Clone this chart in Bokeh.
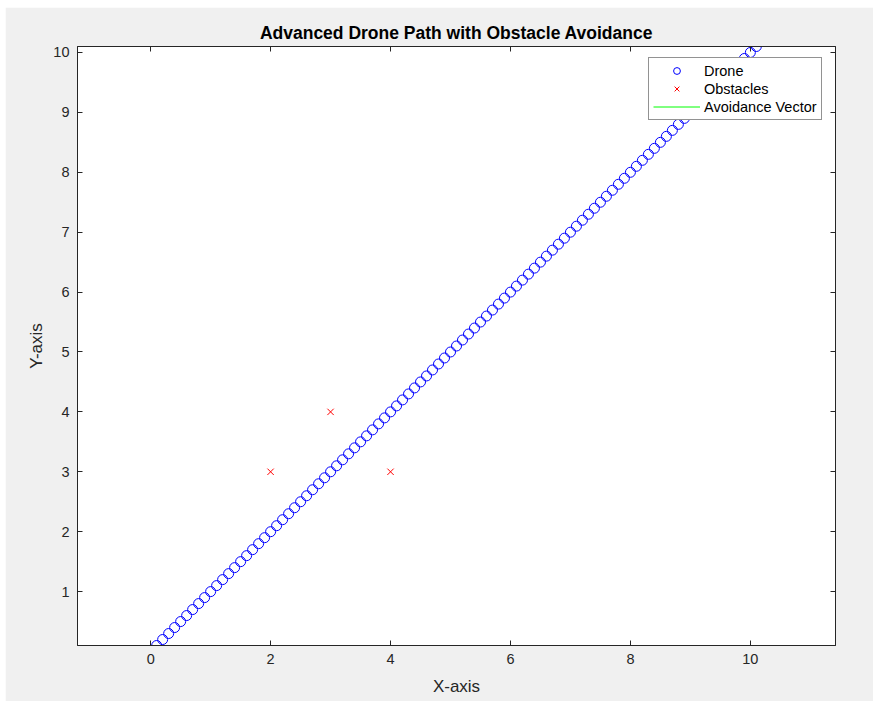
from bokeh.plotting import figure
from bokeh.models import (Range1d, LinearAxis, Legend, LegendItem, FixedTicker,
                          CustomLabelingPolicy, ColumnDataSource)
from bokeh.embed import file_html
from bokeh.resources import INLINE

drone_x = [0.1, 0.2, 0.3, 0.4, 0.5, 0.6, 0.7, 0.8, 0.9, 1.0,
           1.1, 1.2, 1.3, 1.4, 1.5, 1.6, 1.7, 1.8, 1.9, 2.0,
           2.1, 2.2, 2.3, 2.4, 2.5, 2.6, 2.7, 2.8, 2.9, 3.0,
           3.1, 3.2, 3.3, 3.4, 3.5, 3.6, 3.7, 3.8, 3.9, 4.0,
           4.1, 4.2, 4.3, 4.4, 4.5, 4.6, 4.7, 4.8, 4.9, 5.0,
           5.1, 5.2, 5.3, 5.4, 5.5, 5.6, 5.7, 5.8, 5.9, 6.0,
           6.1, 6.2, 6.3, 6.4, 6.5, 6.6, 6.7, 6.8, 6.9, 7.0,
           7.1, 7.2, 7.3, 7.4, 7.5, 7.6, 7.7, 7.8, 7.9, 8.0,
           8.1, 8.2, 8.3, 8.4, 8.5, 8.6, 8.7, 8.8, 8.9, 9.0,
           9.1, 9.2, 9.3, 9.4, 9.5, 9.6, 9.7, 9.8, 9.9, 10.0, 10.1]
drone_y = [0.1, 0.2, 0.3, 0.4, 0.5, 0.6, 0.7, 0.8, 0.9, 1.0,
           1.1, 1.2, 1.3, 1.4, 1.5, 1.6, 1.7, 1.8, 1.9, 2.0,
           2.1, 2.2, 2.3, 2.4, 2.5, 2.6, 2.7, 2.8, 2.9, 3.0,
           3.1, 3.2, 3.3, 3.4, 3.5, 3.6, 3.7, 3.8, 3.9, 4.0,
           4.1, 4.2, 4.3, 4.4, 4.5, 4.6, 4.7, 4.8, 4.9, 5.0,
           5.1, 5.2, 5.3, 5.4, 5.5, 5.6, 5.7, 5.8, 5.9, 6.0,
           6.1, 6.2, 6.3, 6.4, 6.5, 6.6, 6.7, 6.8, 6.9, 7.0,
           7.1, 7.2, 7.3, 7.4, 7.5, 7.6, 7.7, 7.8, 7.9, 8.0,
           8.1, 8.2, 8.3, 8.4, 8.5, 8.6, 8.7, 8.8, 8.9, 9.0,
           9.1, 9.2, 9.3, 9.4, 9.5, 9.6, 9.7, 9.8, 9.9, 10.0, 10.1]
obstacle_x = [2, 3, 4]
obstacle_y = [3, 4, 3]
avoid_x = [float("nan")]
avoid_y = [float("nan")]
x_ticks = [0, 2, 4, 6, 8, 10]
y_ticks = [1, 2, 3, 4, 5, 6, 7, 8, 9, 10]

FONT = "Liberation Sans"
AX = "#262626"

p = figure(width=868, height=694, output_backend="svg", toolbar_location=None,
           x_range=Range1d(-1.22, 11.42), y_range=Range1d(0.1, 10.1),
           title="Advanced Drone Path with Obstacle Avoidance",
           x_axis_label="X-axis", y_axis_label="Y-axis")
p.margin = (7, 0, 0, 5)
p.background_fill_color = "white"
p.border_fill_color = "#f0f0f0"
p.outline_line_color = AX
p.outline_line_width = 1
p.grid.visible = False
p.min_border_left = 72
p.min_border_right = 38
p.min_border_top = 39
p.min_border_bottom = 56

p.title.align = "center"
p.title.text_font = FONT
p.title.text_font_size = "17.5px"
p.title.text_font_style = "bold"
p.title.text_color = "black"
p.title.standoff = 0
p.title.offset = 0

for ax, ticks in ((p.xaxis[0], x_ticks), (p.yaxis[0], y_ticks)):
    ax.ticker = FixedTicker(ticks=ticks)
    ax.major_tick_in = 5
    ax.major_tick_out = 0
    ax.minor_tick_line_color = None
    ax.axis_line_color = AX
    ax.major_tick_line_color = AX
    ax.major_label_text_font = FONT
    ax.major_label_text_font_size = "14.5px"
    ax.major_label_text_color = AX
    ax.axis_label_text_font = FONT
    ax.axis_label_text_font_size = "17px"
    ax.axis_label_text_font_style = "normal"
    ax.axis_label_text_color = AX
    ax.major_label_standoff = 8
p.xaxis[0].axis_label_standoff = 10
p.yaxis[0].axis_label_standoff = 4

hide_labels = CustomLabelingPolicy(code="""
for (const i of indices) { indices.unset(i) }
return indices
""")
for loc, ticks in (("right", y_ticks), ("above", x_ticks)):
    ax = LinearAxis(ticker=FixedTicker(ticks=ticks), major_label_policy=hide_labels)
    ax.major_tick_in = 5
    ax.major_tick_out = 0
    ax.minor_tick_line_color = None
    ax.axis_line_color = AX
    ax.major_tick_line_color = AX
    ax.major_label_standoff = 0
    ax.major_label_text_font_size = "1px"
    p.add_layout(ax, loc)

r_drone = p.scatter(drone_x, drone_y, marker="circle", size=10,
                    line_color="#0000ff", fill_color=None, line_width=1)
r_obs = p.scatter(obstacle_x, obstacle_y, marker="x", size=9,
                  line_color="#ff0000", fill_color=None, line_width=1)
r_vec = p.line(x="x", y="y", source=ColumnDataSource(dict(x=avoid_x, y=avoid_y)),
               line_color="#00ff00", line_width=1)

legend = Legend(items=[LegendItem(label="Drone", renderers=[r_drone]),
                       LegendItem(label="Obstacles", renderers=[r_obs]),
                       LegendItem(label="Avoidance Vector", renderers=[r_vec])],
                location=(571, 525))
legend.label_text_font = FONT
legend.label_text_font_size = "14.5px"
legend.label_text_color = "black"
legend.glyph_width = 47
legend.glyph_height = 17
legend.label_height = 17
legend.spacing = 1
legend.padding = 4
legend.margin = 0
legend.label_standoff = 4
legend.border_line_color = AX
legend.border_line_width = 1
legend.background_fill_color = "white"
legend.background_fill_alpha = 1
p.add_layout(legend, "center")

open("out.html", "w").write(file_html(p, INLINE))
